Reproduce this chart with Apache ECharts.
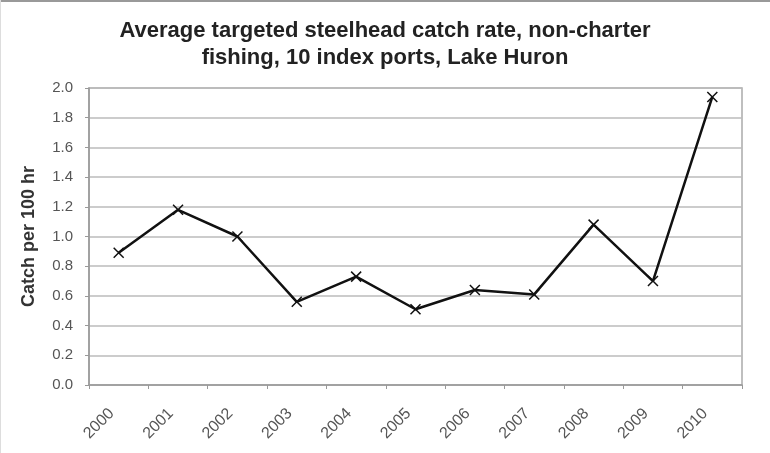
<!DOCTYPE html>
<html>
<head>
<meta charset="utf-8">
<script src="https://cdn.jsdelivr.net/npm/echarts@6/dist/echarts.min.js"></script>
<style>
html,body{margin:0;padding:0;background:#fff;}
#chart{width:770px;height:453px;}
</style>
</head>
<body>
<div id="chart"></div>
<script>
const titleText = 'Average targeted steelhead catch rate, non-charter\nfishing, 10 index ports, Lake Huron';
const yAxisName = 'Catch per 100 hr';
const years = ['2000','2001','2002','2003','2004','2005','2006','2007','2008','2009','2010'];
const catchRate = [0.89, 1.18, 1.00, 0.56, 0.73, 0.51, 0.64, 0.61, 1.08, 0.70, 1.94];
const yMin = 0, yMax = 2.0, yStep = 0.2;

const chart = echarts.init(document.getElementById('chart'), null, {renderer:'canvas'});
chart.setOption({
  backgroundColor:'#fff',
  animation:false,
  title:{
    text:titleText,
    left:'center',
    top:12,
    textStyle:{fontFamily:'Liberation Sans, Arial, sans-serif',fontSize:22,fontWeight:'bold',color:'#222',lineHeight:27}
  },
  grid:{left:89,right:28,top:88,bottom:68,show:true,borderColor:'#aaa',borderWidth:1.5,containLabel:false},
  xAxis:{
    type:'category',
    data:years,
    boundaryGap:true,
    axisLine:{lineStyle:{color:'#999',width:1.5}},
    axisTick:{show:true,alignWithLabel:false,length:4,lineStyle:{color:'#999',width:1}},
    axisLabel:{rotate:45,margin:19,padding:[0,10,0,0],fontFamily:'Liberation Sans, Arial, sans-serif',fontSize:16,color:'#555'},
    splitLine:{show:false}
  },
  yAxis:{
    type:'value',
    min:yMin,max:yMax,interval:yStep,
    name:yAxisName,
    nameLocation:'middle',
    nameGap:51,
    nameTextStyle:{fontFamily:'Liberation Sans, Arial, sans-serif',fontSize:18,fontWeight:'bold',color:'#333'},
    axisLine:{show:true,lineStyle:{color:'#999',width:1.5}},
    axisTick:{show:true,inside:false,length:4,lineStyle:{color:'#999'}},
    axisLabel:{formatter:v=>v.toFixed(1),margin:16,fontFamily:'Liberation Sans, Arial, sans-serif',fontSize:15,color:'#555'},
    splitLine:{show:true,lineStyle:{color:'#bbb',width:1.5}}
  },
  series:[{
    type:'line',
    data:catchRate,
    symbol:'path://M0,0L10,10M10,0L0,10',
    symbolSize:10,
    showSymbol:true,
    lineStyle:{color:'#111',width:2.5},
    itemStyle:{color:'none',borderColor:'#111',borderWidth:1.5}
  }],
  graphic:[
    {type:'line',shape:{x1:0,y1:1,x2:770,y2:1},style:{stroke:'#999',lineWidth:2}},
    {type:'line',shape:{x1:0.5,y1:0,x2:0.5,y2:453},style:{stroke:'#ddd',lineWidth:1}}
  ]
});
</script>
</body>
</html>
